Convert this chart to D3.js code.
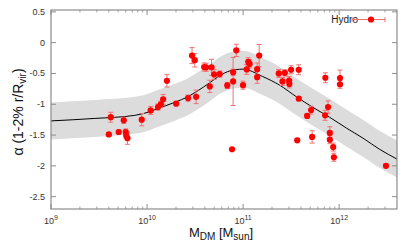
<!DOCTYPE html>
<html lang="en">
<head>
    <meta charset="UTF-8">
    <script src="https://d3js.org/d3.v7.min.js"></script>
    <title>alpha vs M_DM</title>
    <style>
        body { margin: 0; background: #fff; font-family: "Liberation Sans", Arial, sans-serif; }
        svg { display: block; }
        .tick-label { font-size: 9px; fill: #333; }
    </style>
</head>
<body>
    <div id="chart"></div>

    <script>
        // Hydro simulation points (mass in M_sun, inner slope alpha, error)
        const mass = [4.0e9, 4.19e9, 5.07e9, 5.72e9, 6.0e9, 6.07e9, 6.25e9, 8.8e9, 1.09e10, 1.30e10,
            1.39e10, 1.47e10, 1.61e10, 2.01e10, 2.67e10, 3.24e10, 2.94e10, 3.14e10, 3.93e10, 4.12e10,
            4.69e10, 4.5e10, 4.99e10, 5.71e10, 6.84e10, 7.67e10, 7.87e10, 7.87e10, 8.49e10, 9.97e10,
            1.09e11, 1.13e11, 1.17e11, 1.40e11, 1.40e11, 1.47e11, 2.35e11, 2.57e11, 2.72e11, 3.01e11,
            3.03e11, 3.16e11, 3.79e11, 3.80e11, 3.66e11, 4.64e11, 5.10e11, 5.23e11, 7.18e11, 7.14e11,
            7.66e11, 8.0e11, 8.0e11, 8.67e11, 8.81e11, 1.02e12, 1.02e12, 3.07e12];
        const alpha = [-1.49, -1.21, -1.45, -1.26, -1.45, -1.51, -1.55, -1.25, -1.10, -1.045,
            -1.0, -0.92, -0.62, -0.99, -0.90, -0.88, -0.21, -0.285, -0.395, -0.40,
            -0.40, -0.71, -0.515, -0.51, -0.695, -1.73, -0.48, -0.63, -0.125, -0.69,
            -0.435, -0.31, -0.345, -0.43, -0.56, -0.21, -0.50, -0.63, -0.49, -0.615,
            -0.67, -0.44, -0.44, -0.91, -1.585, -1.19, -1.095, -1.53, -0.57, -1.18,
            -1.045, -1.465, -1.575, -1.695, -1.86, -0.575, -0.675, -2.0];
        const alphaErr = [0.03, 0.08, 0.03, 0.05, 0.05, 0.05, 0.1, 0.1, 0.065, 0.05,
            0.05, 0.08, 0.1, 0.03, 0.05, 0.11, 0.13, 0.11, 0.065, 0.065,
            0.13, 0.1, 0.08, 0.05, 0.05, 0, 0.05, 0.39, 0.1, 0.065,
            0.08, 0.065, 0.065, 0.1, 0.1, 0.18, 0.065, 0.065, 0.05, 0.065,
            0.065, 0.065, 0.08, 0.03, 0.03, 0.03, 0.065, 0.1, 0.08, 0.08,
            0.1, 0.1, 0.065, 0.065, 0.065, 0.13, 0.065, 0.03];

        const fitMass = [1e9, 2.86e9, 7.45e9, 1.07e10, 1.29e10, 1.86e10, 2.79e10, 3.31e10, 4.5e10,
            5.71e10, 7.24e10, 9.93e10, 1.6e11, 2.4e11, 3.6e11, 5.32e11, 7.94e11, 1.2e12,
            1.77e12, 2.63e12, 4e12];
        const fitAlpha = [-1.27, -1.23, -1.18, -1.12, -1.07, -0.98, -0.86, -0.79, -0.65,
            -0.535, -0.46, -0.43, -0.55, -0.69, -0.88, -1.05, -1.21, -1.39,
            -1.55, -1.73, -1.89];
        const bandHalf = 0.3;

        const yTicks = [0.5, 0, -0.5, -1, -1.5, -2, -2.5];
        const xTicks = [1e9, 1e10, 1e11, 1e12];

        const W = 407, H = 244;
        const margin = { top: 10, right: 10, bottom: 35, left: 51 };
        const width = W - margin.left - margin.right;
        const height = H - margin.top - margin.bottom;

        const svg = d3.select("#chart").append("svg")
            .attr("width", W).attr("height", H);
        const g = svg.append("g")
            .attr("transform", `translate(${margin.left},${margin.top})`);

        const x = d3.scaleLog().domain([1e9, 4e12]).range([0, width]);
        const y = d3.scaleLinear().domain([-2.7, 0.53]).range([height, 0]);

        g.append("defs").append("clipPath").attr("id", "clip")
            .append("rect").attr("width", width).attr("height", height);

        const fit = fitMass.map((m, i) => ({ m, a: fitAlpha[i] }));

        // scatter band
        g.append("path")
            .datum(fit)
            .attr("clip-path", "url(#clip)")
            .attr("fill", "#dcdcdc")
            .attr("d", d3.area()
                .x(d => x(d.m))
                .y0(d => y(d.a - bandHalf))
                .y1(d => y(d.a + bandHalf))
                .curve(d3.curveMonotoneX));

        // fit line
        g.append("path")
            .datum(fit)
            .attr("fill", "none")
            .attr("stroke", "#000")
            .attr("stroke-width", 1)
            .attr("d", d3.line()
                .x(d => x(d.m))
                .y(d => y(d.a))
                .curve(d3.curveMonotoneX));

        // frame and ticks
        const frame = g.append("g").attr("stroke", "#8c8c8c").attr("fill", "none");
        frame.append("rect").attr("width", width).attr("height", height).attr("stroke-width", 1.2);

        const minor = [];
        for (let e = 9; e <= 12; e++) {
            for (let k = 2; k <= 9; k++) {
                const v = k * Math.pow(10, e);
                if (v < 4e12) minor.push(v);
            }
        }
        minor.forEach(v => {
            [[height, height - 2.5], [0, 2.5]].forEach(([a, b]) => {
                frame.append("line").attr("x1", x(v)).attr("x2", x(v))
                    .attr("y1", a).attr("y2", b).attr("stroke-width", 0.8);
            });
        });
        xTicks.forEach(v => {
            [[height, height - 5], [0, 5]].forEach(([a, b]) => {
                frame.append("line").attr("x1", x(v)).attr("x2", x(v))
                    .attr("y1", a).attr("y2", b).attr("stroke-width", 1);
            });
        });
        yTicks.forEach(v => {
            [[0, 5], [width, width - 5]].forEach(([a, b]) => {
                frame.append("line").attr("y1", y(v)).attr("y2", y(v))
                    .attr("x1", a).attr("x2", b).attr("stroke-width", 1);
            });
        });

        // tick labels
        yTicks.forEach(v => {
            g.append("text").attr("class", "tick-label")
                .attr("x", -6).attr("y", y(v) + 3)
                .attr("text-anchor", "end")
                .text(String(v));
        });
        xTicks.forEach(v => {
            const t = g.append("text").attr("class", "tick-label")
                .attr("x", x(v)).attr("y", height + 15)
                .attr("text-anchor", "middle");
            t.append("tspan").text("10");
            t.append("tspan").attr("dy", -4).attr("font-size", "7px")
                .text(Math.round(Math.log10(v)));
        });

        // error bars + points
        const pts = mass.map((m, i) => ({ m, a: alpha[i], e: alphaErr[i] }));
        const eb = g.append("g").attr("stroke", "#f07070").attr("stroke-width", 1);
        pts.filter(d => d.e > 0).forEach(d => {
            const cx = x(d.m);
            eb.append("line").attr("x1", cx).attr("x2", cx)
                .attr("y1", y(d.a - d.e)).attr("y2", y(d.a + d.e));
            [d.a - d.e, d.a + d.e].forEach(v => {
                eb.append("line").attr("x1", cx - 2.5).attr("x2", cx + 2.5)
                    .attr("y1", y(v)).attr("y2", y(v));
            });
        });
        g.append("g").selectAll("circle")
            .data(pts)
            .join("circle")
            .attr("cx", d => x(d.m))
            .attr("cy", d => y(d.a))
            .attr("r", 3.1)
            .attr("fill", "#ff0000");

        // legend
        const lg = g.append("g").attr("transform", `translate(0,${9.5})`);
        lg.append("text").attr("x", 307).attr("y", 3.5)
            .attr("text-anchor", "end").attr("font-size", "10px").attr("fill", "#222")
            .text("Hydro");
        lg.append("line").attr("x1", 301).attr("x2", 334).attr("y1", 0).attr("y2", 0)
            .attr("stroke", "#f07070");
        [301, 334].forEach(px => lg.append("line").attr("x1", px).attr("x2", px)
            .attr("y1", -2.5).attr("y2", 2.5).attr("stroke", "#f07070"));
        lg.append("circle").attr("cx", 320).attr("cy", 0).attr("r", 3.1).attr("fill", "#ff0000");

        // axis titles
        const xl = svg.append("text")
            .attr("x", margin.left + width / 2 - 3).attr("y", 237)
            .attr("text-anchor", "middle").attr("font-size", "13px").attr("fill", "#111");
        xl.append("tspan").text("M");
        xl.append("tspan").attr("dy", 3).attr("font-size", "10px").text("DM");
        xl.append("tspan").attr("dy", -3).text(" [M");
        xl.append("tspan").attr("dy", 3).attr("font-size", "10px").text("sun");
        xl.append("tspan").attr("dy", -3).text("]");

        const yl = svg.append("text")
            .attr("transform", `translate(23,${margin.top + 102}) rotate(-90)`)
            .attr("text-anchor", "middle").attr("font-size", "14px").attr("fill", "#111");
        yl.append("tspan").text("\u03b1 (1-2% r/R");
        yl.append("tspan").attr("dy", 3).attr("font-size", "10px").text("vir");
        yl.append("tspan").attr("dy", -3).text(")");
    </script>
</body>
</html>
